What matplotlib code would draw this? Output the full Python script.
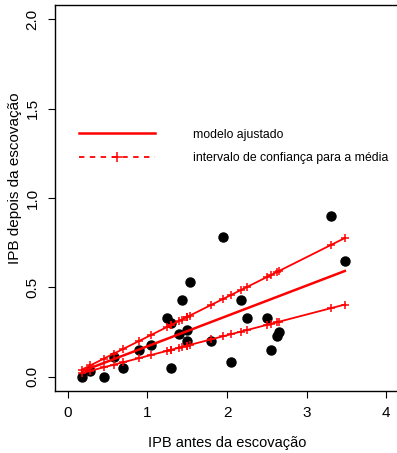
import matplotlib
matplotlib.use("Agg")
import matplotlib.pyplot as plt
import numpy as np
from matplotlib.lines import Line2D

plt.rcParams['font.family'] = ['Liberation Sans', 'DejaVu Sans']

# -------------------------
# Data
# -------------------------
ipb_antes = np.array([0.18, 0.285, 0.45, 0.58, 0.70, 0.90, 1.05, 1.30, 1.25, 1.30,
                      1.43, 1.53, 1.40, 1.50, 1.50, 1.80, 1.95, 2.05, 2.18, 2.25,
                      2.50, 2.55, 2.63, 2.65, 3.30, 3.48])
ipb_depois = np.array([0.00, 0.03, 0.00, 0.11, 0.05, 0.15, 0.18, 0.05, 0.33, 0.30,
                       0.43, 0.53, 0.24, 0.26, 0.20, 0.20, 0.78, 0.08, 0.43, 0.33,
                       0.33, 0.15, 0.23, 0.25, 0.90, 0.65])

# fitted model through origin and confidence limits for the mean (slopes)
slope_fit = 0.170
slope_low = 0.116
slope_high = 0.223

xs = np.sort(ipb_antes)
red = "#ff0000"

# -------------------------
# Plot
# -------------------------
fig = plt.figure(figsize=(3.97, 4.53), dpi=100)
ax = fig.add_axes([55/397, 62/453, 344/397, 386/453])

ax.plot(ipb_antes, ipb_depois, "o", color="black", markersize=6.5, zorder=2)
ax.plot(xs, slope_fit*xs, "-", color=red, lw=1.8, zorder=3)
ax.plot(xs, slope_high*xs, "-", color=red, lw=1.3, marker="+", markersize=6, mew=1.1, zorder=3)
ax.plot(xs, slope_low*xs, "-", color=red, lw=1.3, marker="+", markersize=6, mew=1.1, zorder=3)

ax.set_xlim(-0.16, 4.16)
ax.set_ylim(-0.08, 2.08)
ax.set_xticks([0, 1, 2, 3, 4])
ax.set_yticks([0.0, 0.5, 1.0, 1.5, 2.0])
ax.set_yticklabels(["0.0", "0.5", "1.0", "1.5", "2.0"], rotation=90, va="center")
ax.tick_params(labelsize=11, length=5, width=0.8, pad=6)
ax.spines["right"].set_visible(False)
for s in ["left", "top", "bottom"]:
    ax.spines[s].set_linewidth(1.0)

ax.set_xlabel("IPB antes da escovação", fontsize=10.5)
ax.set_ylabel("IPB depois da escovação", fontsize=11)
ax.xaxis.set_label_coords(0.5, -0.117)
ax.yaxis.set_label_coords(-0.095, 0.552)

handles = [Line2D([], [], color=red, lw=1.8),
           Line2D([], [], color=red, lw=1.3, ls=(0, (3, 3)), marker="+", markersize=7, mew=1.1)]
ax.legend(handles, ["modelo ajustado", "intervalo de confiança para a média"],
          loc="upper left", bbox_to_anchor=(0.0698, 0.68), frameon=False,
          borderpad=0, borderaxespad=0,
          fontsize=8.8, handlelength=6.2, handletextpad=3.1, labelspacing=0.95,
          numpoints=1)

plt.savefig("out.png", dpi=100)
